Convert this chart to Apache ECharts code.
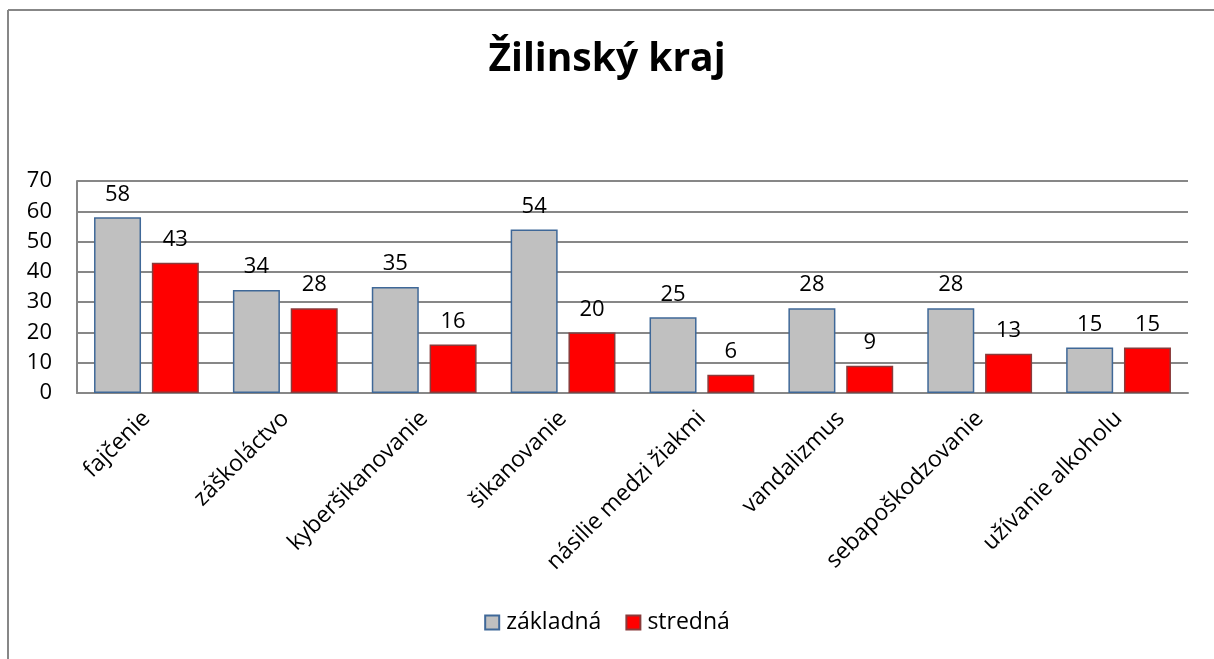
<!DOCTYPE html>
<html>
<head>
<meta charset="utf-8">
<script src="https://cdn.jsdelivr.net/npm/echarts@6/dist/echarts.min.js"></script>
<style>html,body{margin:0;padding:0;background:#fff;}#c{width:1214px;height:659px;}</style>
</head>
<body>
<div id="c"></div>
<script>
const titleText = 'Žilinský kraj';
const categories = ['fajčenie','záškoláctvo','kyberšikanovanie','šikanovanie','násilie medzi žiakmi','vandalizmus','sebapoškodzovanie','užívanie alkoholu'];
const seriesNames = ['základná','stredná'];
const zakladna = [58,34,35,54,25,28,28,15];
const stredna = [43,28,16,20,6,9,13,15];
const yTicks = [0,10,20,30,40,50,60,70];

const FONT = '"Open Sans", sans-serif';
const chart = echarts.init(document.getElementById('c'), null, {renderer:'canvas'});
const lbl = {show:true, position:'top', distance:12, color:'#000', fontSize:22, fontFamily:FONT};
chart.setOption({
  backgroundColor:'#fff',
  animation:false,
  graphic:[
    {type:'line', shape:{x1:8,y1:10,x2:8,y2:700}, style:{stroke:'#878787', lineWidth:2}, silent:true},
    {type:'line', shape:{x1:8,y1:10,x2:1300,y2:10}, style:{stroke:'#878787', lineWidth:2}, silent:true}
  ],
  title:{text:titleText, left:'center', top:35, textStyle:{fontFamily:FONT, fontWeight:'bold', fontSize:39, color:'#000'}},
  legend:{data:seriesNames, bottom:20, left:'center', itemWidth:14, itemHeight:14, itemGap:24, icon:'rect',
    textStyle:{fontFamily:FONT, fontSize:23, color:'#000', padding:[0,0,0,2]}},
  grid:{left:77, right:26, top:181, bottom:266, containLabel:false},
  xAxis:{type:'category', data:categories,
    axisLine:{show:true, lineStyle:{color:'#878787', width:2}},
    axisTick:{show:false},
    axisLabel:{rotate:45, interval:0, margin:22, color:'#000', fontSize:23, fontFamily:FONT}},
  yAxis:{type:'value', min:yTicks[0], max:yTicks[yTicks.length-1], interval:10,
    axisLine:{show:true, lineStyle:{color:'#878787', width:2}},
    axisTick:{show:false},
    splitLine:{lineStyle:{color:'#878787', width:2}},
    axisLabel:{color:'#000', fontSize:22, fontFamily:FONT, margin:25}},
  series:[
    {name:seriesNames[0], type:'bar', data:zakladna, barWidth:47, barGap:'23%',
     itemStyle:{color:'#c0c0c0', borderColor:'#3f6898', borderWidth:1.5}, label:lbl},
    {name:seriesNames[1], type:'bar', data:stredna, barWidth:47,
     itemStyle:{color:'#ff0000', borderColor:'#8a3b3b', borderWidth:1.5}, label:lbl}
  ]
});
</script>
</body>
</html>
